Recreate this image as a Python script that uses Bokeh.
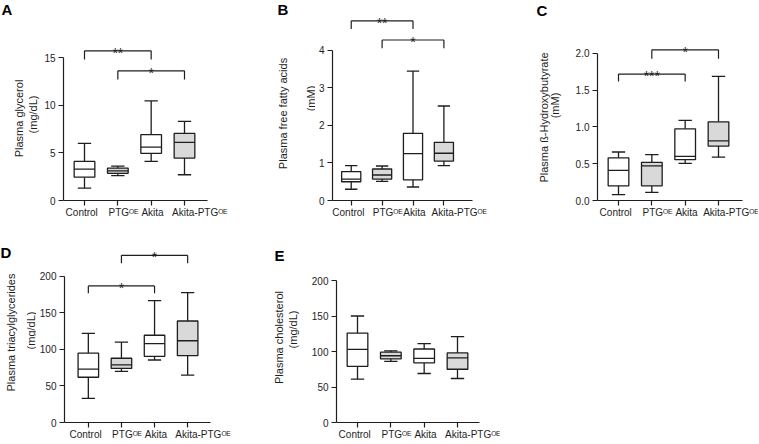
import math
from bokeh.plotting import figure
from bokeh.models import ColumnDataSource, FixedTicker, Range1d
from bokeh.layouts import column, row
from bokeh.transform import dodge
from bokeh.embed import file_html
from bokeh.resources import INLINE
from bokeh.core.properties import value

FONT = "Liberation Sans"
INK = "#1e1e1e"

categories = ["Control", "PTGᴼᴱ", "Akita", "Akita-PTGᴼᴱ"]
positions = [1, 2, 3, 4]
fills = ["white", "#d9d9d9", "white", "#d9d9d9"]

# Panel A: plasma glycerol (mg/dL)
a_low = [1.3, 2.6, 4.1, 2.7]
a_q1 = [2.45, 2.85, 4.95, 4.45]
a_med = [3.3, 3.1, 5.6, 6.1]
a_q3 = [4.1, 3.4, 6.9, 7.05]
a_high = [6.0, 3.6, 10.45, 8.3]
a_ticks = [0, 5, 10, 15]
a_br_from = [1, 2]
a_br_to = [3, 4]
a_br_line = [15.7, 13.6]
a_br_drop = [14.8, 12.7]
a_br_text = ["**", "*"]

# Panel B: plasma free fatty acids (mM)
b_low = [0.30, 0.51, 0.36, 0.93]
b_q1 = [0.50, 0.57, 0.55, 1.05]
b_med = [0.57, 0.68, 1.25, 1.26]
b_q3 = [0.77, 0.84, 1.79, 1.55]
b_high = [0.93, 0.92, 3.45, 2.52]
b_ticks = [0, 1, 2, 3, 4]
b_br_from = [1, 2]
b_br_to = [3, 4]
b_br_line = [4.79, 4.28]
b_br_drop = [4.57, 4.06]
b_br_text = ["**", "*"]

# Panel C: plasma beta-hydroxybutyrate (mM)
c_low = [0.08, 0.11, 0.505, 0.59]
c_q1 = [0.20, 0.20, 0.555, 0.74]
c_med = [0.41, 0.47, 0.60, 0.81]
c_q3 = [0.58, 0.52, 0.975, 1.07]
c_high = [0.66, 0.625, 1.09, 1.69]
c_ticks = [0, 0.5, 1.0, 1.5, 2.0]
c_br_from = [2, 1]
c_br_to = [4, 3]
c_br_line = [2.05, 1.72]
c_br_drop = [1.93, 1.62]
c_br_text = ["*", "***"]

# Panel D: plasma triacylglycerides (mg/dL)
d_low = [33, 70, 85.6, 65]
d_q1 = [62, 74, 90.6, 91.5]
d_med = [73, 79, 108, 112]
d_q3 = [95, 88, 119.5, 139]
d_high = [122, 110, 167, 178]
d_ticks = [0, 50, 100, 150, 200]
d_br_from = [2, 1]
d_br_to = [4, 3]
d_br_line = [229, 187]
d_br_drop = [218, 177]
d_br_text = ["*", "*"]

# Panel E: plasma cholesterol (mg/dL)
e_low = [61, 86, 69, 62]
e_q1 = [79, 89.5, 84, 75]
e_med = [103, 94, 90.4, 91]
e_q3 = [126, 99, 103.5, 98]
e_high = [150, 101, 111, 121]
e_ticks = [0, 50, 100, 150, 200]

NB = "\u00a0"
pad_left = [0, 4, 1, 11]
pad_right = [2, 0, 0, 0]

H = 221
STRIP_DY = 7


def strip(w, bottom, x0, y0, letter, letter_xy, title1, t1_xy, title2, t2_xy):
    """Left margin strip holding the panel letter and the y-axis title."""
    fh = H - bottom
    p = figure(width=w, height=H, x_range=Range1d(0, w), y_range=Range1d(0, fh),
               min_border_left=0, min_border_right=0, min_border_top=0,
               min_border_bottom=bottom,
               x_axis_location=None, y_axis_location=None,
               output_backend="svg", toolbar_location=None, title=None,
               background_fill_color="white", border_fill_color="white")
    p.outline_line_color = None
    p.grid.visible = False
    lx, ly = letter_xy
    p.text(x=[lx - x0], y=[fh - (ly - y0) + STRIP_DY], text=[letter],
           text_font=value(FONT), text_font_size="15px",
           text_font_style="bold", text_color="black",
           text_align="left", text_baseline="alphabetic")
    for txt, (tx, ty) in ((title1, t1_xy), (title2, t2_xy)):
        p.text(x=[tx - x0], y=[fh - (ty - y0) + STRIP_DY], text=[txt],
               angle=math.pi / 2, text_font=value(FONT),
               text_font_size="11px", text_color=INK,
               text_align="center", text_baseline="middle")
    return p


def panel(lows, q1s, meds, q3s, highs, ticks, tick_fmt, w, borders, xr, yr,
          br=None):
    bl, brr, bb = borders
    p = figure(width=w, height=H, min_border_left=bl, min_border_right=brr,
               min_border_top=0, min_border_bottom=bb, title=None,
               x_range=Range1d(*xr), y_range=Range1d(*yr),
               output_backend="svg", toolbar_location=None,
               background_fill_color="white", border_fill_color="white")
    p.outline_line_color = None
    p.grid.visible = False

    src = ColumnDataSource(dict(x=positions, low=lows, q1=q1s, med=meds,
                                q3=q3s, high=highs, fill=fills))
    bw, cw = 0.62, 0.40
    lw = 1.3
    p.segment(x0="x", y0="low", x1="x", y1="q1", source=src,
              line_color=INK, line_width=lw)
    p.segment(x0="x", y0="q3", x1="x", y1="high", source=src,
              line_color=INK, line_width=lw)
    p.segment(x0=dodge("x", -cw / 2), y0="low", x1=dodge("x", cw / 2),
              y1="low", source=src, line_color=INK, line_width=lw)
    p.segment(x0=dodge("x", -cw / 2), y0="high", x1=dodge("x", cw / 2),
              y1="high", source=src, line_color=INK, line_width=lw)
    p.vbar(x="x", bottom="q1", top="q3", width=bw, source=src,
           fill_color="fill", line_color=INK, line_width=lw)
    p.segment(x0=dodge("x", -bw / 2), y0="med", x1=dodge("x", bw / 2),
              y1="med", source=src, line_color=INK, line_width=lw)

    if br is not None:
        f, t, yl, yd, txt = br
        bsrc = ColumnDataSource(dict(f=f, t=t, yl=yl, yd=yd, txt=txt,
                                     mid=[(a + b) / 2 for a, b in zip(f, t)]))
        p.segment(x0="f", y0="yl", x1="t", y1="yl", source=bsrc,
                  line_color=INK, line_width=1.2)
        p.segment(x0="f", y0="yd", x1="f", y1="yl", source=bsrc,
                  line_color=INK, line_width=1.2)
        p.segment(x0="t", y0="yd", x1="t", y1="yl", source=bsrc,
                  line_color=INK, line_width=1.2)
        p.text(x="mid", y="yl", text="txt", source=bsrc,
               text_font=value(FONT), text_font_size="14px",
               text_align="center", text_baseline="alphabetic",
               y_offset=2, text_color=INK)

    yax = p.yaxis[0]
    xax = p.xaxis[0]
    yax.ticker = FixedTicker(ticks=ticks)
    yax.bounds = (ticks[0], ticks[-1])
    yax.major_label_overrides = {t: tick_fmt.format(t) for t in ticks}
    xax.ticker = FixedTicker(ticks=positions)
    xax.major_label_overrides = {
        pos: NB * pl + name + NB * pr
        for pos, name, pl, pr in zip(positions, categories, pad_left, pad_right)}
    for ax in (xax, yax):
        ax.axis_line_color = INK
        ax.axis_line_width = 1.2
        ax.major_tick_line_color = INK
        ax.major_tick_line_width = 1.2
        ax.major_tick_out = 5
        ax.major_tick_in = 0
        ax.minor_tick_line_color = None
        ax.major_label_text_font = FONT
        ax.major_label_text_color = INK
        ax.major_label_text_font_size = "10px"
    yax.major_label_standoff = 3
    xax.major_label_standoff = 1
    return p


# Row 1 (frames share top 0 and bottom 200)
sA = strip(40, 21, 0, 0, "A", (1, 16), "Plasma glycerol", (18, 125),
           "(mg/dL)", (32, 121))
pA = panel(a_low, a_q1, a_med, a_q3, a_high, a_ticks, "{:g}", 218,
           (23, 51, 21), (0.37, 4.69), (0, 20.98),
           br=(a_br_from, a_br_to, a_br_line, a_br_drop, a_br_text))

sB = strip(57, 21, 258, 0, "B", (277, 16), "Plasma free fatty acids",
           (282, 120), "(mM)", (310, 105))
pB = panel(b_low, b_q1, b_med, b_q3, b_high, b_ticks, "{:g}", 185,
           (15, 28, 21), (0.394, 4.926), (0, 5.333),
           br=(b_br_from, b_br_to, b_br_line, b_br_drop, b_br_text))

sC = strip(72, 21, 500, 0, "C", (536, 17), "Plasma ß-Hydroxybutyrate",
           (543, 124), "(mM)", (554, 112))
pC = panel(c_low, c_q1, c_med, c_q3, c_high, c_ticks, "{:.1f}", 186,
           (25, 16, 21), (0.37, 4.72), (0, 2.721),
           br=(c_br_from, c_br_to, c_br_line, c_br_drop, c_br_text))

# Row 2 (frames share top 221 and bottom 422)
sD = strip(36, 20, 0, H, "D", (0, 259), "Plasma triacylglycerides",
           (10, 339), "(mg/dL)", (30, 337))
pD = panel(d_low, d_q1, d_med, d_q3, d_high, d_ticks, "{:g}", 222,
           (27, 48, 20), (0.28, 4.69), (0, 275.3),
           br=(d_br_from, d_br_to, d_br_line, d_br_drop, d_br_text))

sE = strip(48, 20, 258, H, "E", (274, 262), "Plasma cholesterol", (278, 344),
           "(mg/dL)", (292, 336))
pE = panel(e_low, e_q1, e_med, e_q3, e_high, e_ticks, "{:g}", 194,
           (30, 21, 20), (0.37, 4.66), (0, 283.1))

layout = column(row(sA, pA, sB, pB, sC, pC, spacing=0),
                row(sD, pD, sE, pE, spacing=0), spacing=0)

open("out.html", "w").write(file_html(layout, INLINE))
